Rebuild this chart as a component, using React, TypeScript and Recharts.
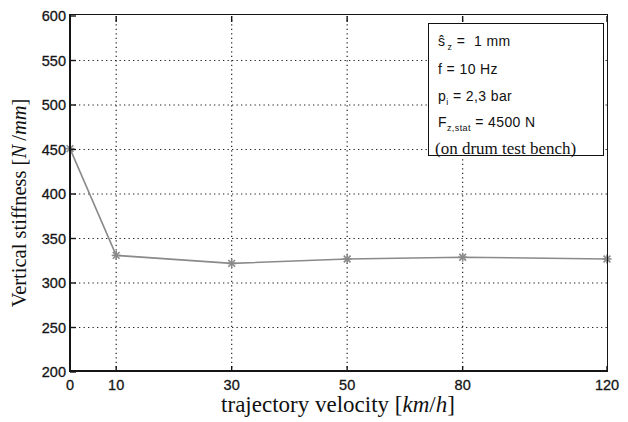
import React from "react";
import { LineChart, Line, XAxis, YAxis, ReferenceLine } from "recharts";

// Measured vertical stiffness over trajectory velocity
const velocity = [0, 10, 30, 50, 80, 120];
const stiffness = [451, 331, 322, 327, 329, 327];
const yTicks = [200, 250, 300, 350, 400, 450, 500, 550, 600];

// The velocity axis is drawn with non-uniform spacing between the test speeds:
// each interval between neighbouring speeds gets its own relative width.
const segmentWidths = [0.4, 1, 1, 1, 1.25];
const axisPos = (v: number) => {
  let pos = 0;
  for (let i = 0; i < velocity.length - 1; i++) {
    const a = velocity[i];
    const b = velocity[i + 1];
    if (v >= b) {
      pos += segmentWidths[i];
    } else if (v > a) {
      pos += segmentWidths[i] * ((v - a) / (b - a));
      break;
    } else break;
  }
  return pos;
};
const axisEnd = axisPos(velocity[velocity.length - 1]);
const xTicks = velocity.map(axisPos);
const labelFor = (p: number) => {
  const i = xTicks.findIndex((t) => Math.abs(t - p) < 1e-6);
  return i >= 0 ? String(velocity[i]) : "";
};

const rows = velocity.map((v, i) => ({ v, pos: axisPos(v), stiffness: stiffness[i] }));

const sans = "'Liberation Sans', Arial, sans-serif";
const serif = "'Liberation Serif', 'DejaVu Serif', serif";
const ink = "#151515";
const TICK_LEN = 6;
const X_MARGIN = 10;
const Y_MARGIN = 9;

// Chart box and plot margins
const CHART_W = 628;
const CHART_H = 422;
const M_TOP = 15;
const M_RIGHT = 20;
const Y_AXIS_W = 70;
const X_AXIS_H = 50;

// Axis ticks point into the plot; each tick renders its own mark plus label.
const BottomTick = (props: any) => {
  const { x, y, payload } = props;
  const axisY = y - X_MARGIN;
  return (
    <g>
      <rect x={x - 0.7} y={axisY - TICK_LEN} width={1.4} height={TICK_LEN} fill={ink} />
      <text
        x={x}
        y={y}
        dy="0.56em"
        textAnchor="middle"
        fontFamily={sans}
        fontSize={14.5}
        fill={ink}
        stroke={ink}
        strokeWidth={0.3}
      >
        {labelFor(payload.value)}
      </text>
    </g>
  );
};

const TopTick = (props: any) => {
  const { x, y } = props;
  const axisY = y + X_MARGIN;
  return <rect x={x - 0.7} y={axisY} width={1.4} height={TICK_LEN} fill={ink} />;
};

const LeftTick = (props: any) => {
  const { x, y, payload } = props;
  const axisX = x + Y_MARGIN;
  return (
    <g>
      <rect x={axisX} y={y - 0.7} width={TICK_LEN} height={1.4} fill={ink} />
      <text
        x={x + 5}
        y={y}
        dy="0.36em"
        textAnchor="end"
        fontFamily={sans}
        fontSize={14.5}
        fill={ink}
        stroke={ink}
        strokeWidth={0.3}
      >
        {payload.value}
      </text>
    </g>
  );
};

const RightTick = (props: any) => {
  const { x, y } = props;
  const axisX = x - Y_MARGIN;
  return <rect x={axisX - TICK_LEN} y={y - 0.7} width={TICK_LEN} height={1.4} fill={ink} />;
};

const Asterisk = (props: any) => {
  const { cx, cy } = props;
  if (cx == null || cy == null) return null;
  const r = 4.5;
  const d = r * 0.75;
  return (
    <g stroke="#8a8a8a" strokeWidth={1.6}>
      <line x1={cx - r} y1={cy} x2={cx + r} y2={cy} />
      <line x1={cx} y1={cy - r} x2={cx} y2={cy + r} />
      <line x1={cx - d} y1={cy - d} x2={cx + d} y2={cy + d} />
      <line x1={cx - d} y1={cy + d} x2={cx + d} y2={cy - d} />
    </g>
  );
};

const YTitle = () => {
  const cx = 19;
  const cy = 203;
  return (
    <text
      x={cx}
      y={cy}
      transform={`rotate(-90 ${cx} ${cy})`}
      textAnchor="middle"
      dominantBaseline="central"
      fontFamily={serif}
      fontSize={20.5}
      fill="#111"
    >
      Vertical stiffness [<tspan fontStyle="italic">N</tspan>{"\u2009/"}
      <tspan fontStyle="italic">mm</tspan>]
    </text>
  );
};

const XTitle = () => (
  <text x={338} y={412} textAnchor="middle" fontFamily={serif} fontSize={23} fill="#111">
    trajectory velocity [<tspan fontStyle="italic">km</tspan>/<tspan fontStyle="italic">h</tspan>]
  </text>
);

const boxLine: React.CSSProperties = {
  position: "absolute",
  left: 9,
  whiteSpace: "nowrap",
  fontFamily: sans,
  fontSize: 14,
  letterSpacing: 0.4,
  color: "#111",
  lineHeight: "15px",
};

const gridProps = {
  xAxisId: "bottom",
  yAxisId: "left",
  stroke: "#222",
  strokeWidth: 1.2,
  strokeDasharray: "1.3 3.2",
};

export default function App() {
  return (
    <div style={{ position: "relative", width: CHART_W, height: CHART_H, background: "#fff" }}>
      <style>{`body{margin:0}`}</style>
      <LineChart
        width={CHART_W}
        height={CHART_H}
        data={rows}
        margin={{ top: M_TOP, right: M_RIGHT, bottom: 0, left: 0 }}
      >
        <XAxis
          xAxisId="bottom"
          dataKey="pos"
          type="number"
          domain={[0, axisEnd]}
          ticks={xTicks}
          height={X_AXIS_H}
          tickSize={0}
          tickMargin={X_MARGIN}
          tick={<BottomTick />}
          axisLine={false}
          tickLine={false}
          interval={0}
        />
        <XAxis
          xAxisId="top"
          orientation="top"
          dataKey="pos"
          type="number"
          domain={[0, axisEnd]}
          ticks={xTicks}
          height={1}
          tickSize={0}
          tickMargin={X_MARGIN}
          tick={<TopTick />}
          axisLine={false}
          tickLine={false}
          interval={0}
        />
        <YAxis
          yAxisId="left"
          type="number"
          domain={[200, 600]}
          ticks={yTicks}
          width={Y_AXIS_W}
          tickSize={0}
          tickMargin={Y_MARGIN}
          tick={<LeftTick />}
          axisLine={false}
          tickLine={false}
          interval={0}
        />
        <YAxis
          yAxisId="right"
          orientation="right"
          type="number"
          domain={[200, 600]}
          ticks={yTicks}
          width={1}
          tickSize={0}
          tickMargin={Y_MARGIN}
          tick={<RightTick />}
          axisLine={false}
          tickLine={false}
          interval={0}
        />
        {/* dotted grid at every inner tick */}
        {xTicks.slice(1, -1).map((t) => (
          <ReferenceLine key={`gx${t}`} x={t} {...gridProps} />
        ))}
        {yTicks.slice(1, -1).map((t) => (
          <ReferenceLine key={`gy${t}`} y={t} {...gridProps} />
        ))}
        <Line
          xAxisId="bottom"
          yAxisId="left"
          type="linear"
          dataKey="stiffness"
          stroke="#8a8a8a"
          strokeWidth={1.6}
          dot={<Asterisk />}
          activeDot={false}
          isAnimationActive={false}
        />
        <YTitle />
        <XTitle />
      </LineChart>
      {/* plot frame: heavier left/bottom axes, lighter top/right edges */}
      <div
        style={{
          position: "absolute",
          left: Y_AXIS_W - 1,
          top: M_TOP - 1,
          width: CHART_W - M_RIGHT - 1 - Y_AXIS_W + 2,
          height: CHART_H - X_AXIS_H - M_TOP - 1 + 2,
          boxSizing: "border-box",
          borderLeft: `2px solid ${ink}`,
          borderBottom: `2px solid ${ink}`,
          borderTop: `1.5px solid ${ink}`,
          borderRight: `1.5px solid ${ink}`,
          pointerEvents: "none",
        }}
      />
      <div
        style={{
          position: "absolute",
          left: 428,
          top: 23,
          width: 176,
          height: 133,
          boxSizing: "border-box",
          border: "1.2px solid #111",
          background: "#fff",
        }}
      >
        <div style={{ ...boxLine, top: 10 }}>
          s&#770;<sub style={{ fontSize: 9 }}>&thinsp;z</sub> = &nbsp;1 mm
        </div>
        <div style={{ ...boxLine, top: 38 }}>f = 10 Hz</div>
        <div style={{ ...boxLine, top: 65 }}>
          p<sub style={{ fontSize: 9 }}>i</sub> = 2,3 bar
        </div>
        <div style={{ ...boxLine, top: 91 }}>
          F<sub style={{ fontSize: 9 }}>z,stat</sub> = 4500 N
        </div>
        <div
          style={{
            ...boxLine,
            left: 6,
            top: 117,
            fontFamily: serif,
            fontSize: 17,
            letterSpacing: 0,
          }}
        >
          (on drum test bench)
        </div>
      </div>
    </div>
  );
}
